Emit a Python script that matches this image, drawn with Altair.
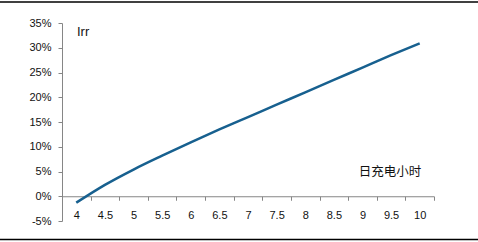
import altair as alt
import pandas as pd

hours = ["4", "4.5", "5", "5.5", "6", "6.5", "7", "7.5", "8", "8.5", "9", "9.5", "10"]
irr = [-0.013, 0.023, 0.054, 0.082, 0.109, 0.135, 0.160, 0.185, 0.210, 0.235, 0.260, 0.285, 0.309]
y_ticks = [-0.05, 0, 0.05, 0.10, 0.15, 0.20, 0.25, 0.30, 0.35]

df = pd.DataFrame({"hours": hours, "irr": irr})

W, H = 372, 198
FONT = "Liberation Sans"
AX = "#868686"

line = alt.Chart(df).mark_line(color="#17608f", strokeWidth=2.5, interpolate="monotone").encode(
    x=alt.X("hours:O", sort=hours, bandPosition=0.5,
            scale=alt.Scale(type="band", paddingInner=0, paddingOuter=0),
            axis=alt.Axis(title=None, labelAngle=0, offset=-24.75, tickBand="extent",
                          domainColor=AX, tickColor=AX, tickSize=4, labelPadding=9,
                          labelFont=FONT, labelFontSize=11, labelColor="#111",
                          grid=False)),
    y=alt.Y("irr:Q", scale=alt.Scale(domain=[-0.05, 0.35], nice=False, zero=False),
            axis=alt.Axis(title=None, values=y_ticks, labelExpr="round(datum.value*100) + '%'",
                          domainColor=AX, tickColor=AX, tickSize=4, labelPadding=7,
                          labelFont=FONT, labelFontSize=11, labelColor="#111",
                          grid=False)),
)

irr_label = alt.Chart(pd.DataFrame({"t": ["Irr"]})).mark_text(
    font=FONT, fontSize=13, align="left", baseline="middle", color="#111"
).encode(x=alt.value(15), y=alt.value(9), text="t:N")

x_label = alt.Chart(pd.DataFrame({"t": ["日充电小时"]})).mark_text(
    font="Noto Sans CJK SC", fontSize=12.5, align="center", baseline="middle", color="#111"
).encode(x=alt.value(328), y=alt.value(149), text="t:N")

top_rule = alt.Chart(pd.DataFrame({"a": [0]})).mark_rule(color="#000", strokeWidth=1.5).encode(
    x=alt.value(-62), x2=alt.value(416), y=alt.value(-21))
bottom_rule = alt.Chart(pd.DataFrame({"a": [0]})).mark_rule(color="#000", strokeWidth=1.5).encode(
    x=alt.value(-62), x2=alt.value(416), y=alt.value(216.5))

chart = alt.layer(line, irr_label, x_label, top_rule, bottom_rule).properties(
    width=W, height=H,
    autosize=alt.AutoSizeParams(type="none"),
    padding={"left": 62, "top": 23, "right": 44, "bottom": 21},
    background="white",
).configure_view(stroke=None)

chart.save("out.html", embed_options={"renderer": "svg", "actions": False})
